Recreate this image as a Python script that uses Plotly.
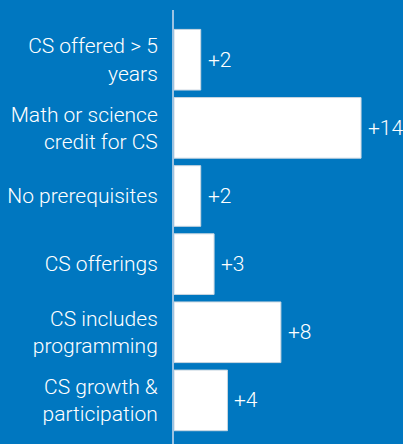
import plotly.graph_objects as go

categories = ["CS offered > 5<br>years", "Math or science<br>credit for CS", "No prerequisites",
              "CS offerings", "CS includes<br>programming", "CS growth &<br>participation"]
values = [2, 14, 2, 3, 8, 4]
value_labels = ["+2", "+14", "+2", "+3", "+8", "+4"]

positions = list(range(len(categories)))
BG = "#0077C0"
FONT = dict(family="Roboto Light, Roboto", size=21, color="white", weight=300)

fig = go.Figure(go.Bar(
    x=values, y=positions, orientation="h",
    marker=dict(color="white", line=dict(color="#c9d6e0", width=1)),
    width=0.89,
))
for v, p, lab in zip(values, positions, value_labels):
    fig.add_annotation(x=v, y=p, text=lab, showarrow=False, xanchor="left",
                       yanchor="middle", xshift=5, font=FONT)
fig.update_layout(
    width=403, height=444,
    margin=dict(l=174, r=0, t=10, b=0),
    paper_bgcolor=BG, plot_bgcolor=BG,
    showlegend=False,
    font=FONT,
    xaxis=dict(range=[0, 17.14], visible=False, showgrid=False, zeroline=False),
    yaxis=dict(range=[5.64, -0.73], tickvals=positions, ticktext=categories,
               showgrid=False, zeroline=False, showline=True, linecolor="#9cc3e2",
               linewidth=2, ticks="", ticklabelstandoff=10, tickfont=FONT),
)
fig.write_html("out.html")
